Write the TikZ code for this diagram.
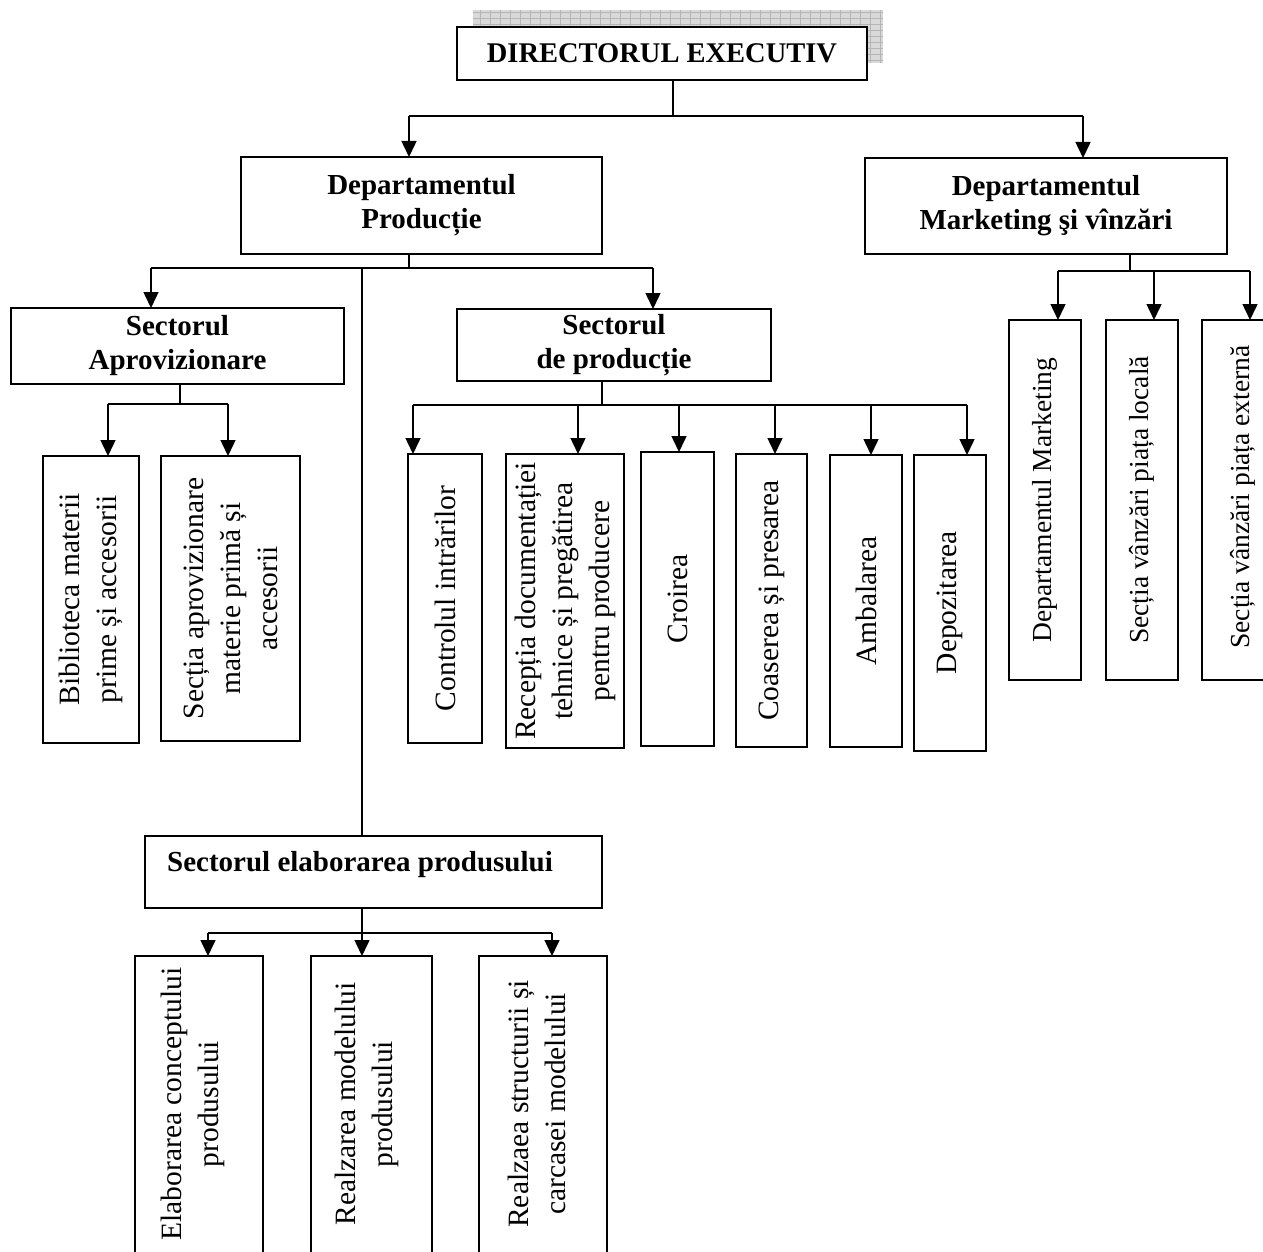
\documentclass[tikz,border=0pt]{standalone}
\usepackage{fontspec}
\setmainfont{Liberation Serif}
\usetikzlibrary{arrows.meta}
\begin{document}
\begin{tikzpicture}[x=1pt,y=-1pt,
  box/.style={draw, line width=1.7pt, inner sep=0pt, outer sep=0pt, fill=white},
  btxt/.style={font=\bfseries\fontsize{29}{34}\selectfont, align=center},
  vtxt/.style={font=\fontsize{29.5}{37}\selectfont, align=center, rotate=90, inner sep=0pt},
  mtxt/.style={font=\fontsize{27.5}{34}\selectfont, align=center, rotate=90, inner sep=0pt},
  ln/.style={line width=1.5pt},
  arr/.style={line width=1.5pt, -{Triangle[width=15pt,length=16pt]}},
]
\useasboundingbox (0,0) rectangle (1263,1252);

% shadow of the director box
\fill[gray!30] (473,10) rectangle (883,63);
\draw[gray!58, line width=0.7pt, xstep=10pt, ystep=6pt] (473,10) grid (883,63);

% ---- top level
\node[box, btxt, font=\bfseries\fontsize{28.5}{34}\selectfont, minimum width=410, minimum height=53] (dir) at (662,53.5) {DIRECTORUL EXECUTIV};
\node[box, btxt, minimum width=361, minimum height=97] (dprod) at (421.5,205.5) {Departamentul\\Producție};
\node[box, btxt, minimum width=362, minimum height=96] (dmkt) at (1046,206) {Departamentul\\Marketing şi vînzări};

\coordinate (j0) at (673,116);
\coordinate (a0) at (409,116);
\coordinate (b0) at (1083,116);
\draw[ln] (dir.south -| j0) -- (j0);
\draw[ln] (a0) -- (b0);
\draw[arr] (a0) -- (a0 |- dprod.north);
\draw[arr] (b0) -- (b0 |- dmkt.north);

% ---- under Departamentul Productie
\node[box, btxt, minimum width=333, minimum height=76] (aprov) at (177.5,346) {Sectorul\\Aprovizionare};
\node[box, btxt, minimum width=314, minimum height=72] (sprod) at (614,345) {Sectorul\\de producție};
\node[box, minimum width=457, minimum height=72] (elab) at (373.5,872) {};
\node[btxt, anchor=west, inner sep=0pt] (elabt) at (167,865) {Sectorul elaborarea produsului};

\coordinate (j1) at (409,268);
\coordinate (a1) at (151,268);
\coordinate (b1) at (653,268);
\coordinate (v1) at (362,268);
\draw[ln] (dprod.south -| j1) -- (j1);
\draw[ln] (a1) -- (b1);
\draw[arr] (a1) -- (a1 |- aprov.north);
\draw[arr] (b1) -- (b1 |- sprod.north);
\draw[ln] (v1) -- (v1 |- elab.north);

% ---- Sectorul Aprovizionare children
\node[box, minimum width=96, minimum height=287] (bib) at (91,599.5) {};
\node[box, minimum width=139, minimum height=285] (secap) at (230.5,598.5) {};
\node[vtxt] (bibt) at (bib.center) {Biblioteca materii\\prime și accesorii};
\node[vtxt] (secapt) at (secap.center) {Secția aprovizionare\\materie primă și\\accesorii};

\coordinate (j2) at (180,404);
\coordinate (a2) at (108,404);
\coordinate (b2) at (228,404);
\draw[ln] (aprov.south -| j2) -- (j2);
\draw[ln] (a2) -- (b2);
\draw[arr] (a2) -- (a2 |- bib.north);
\draw[arr] (b2) -- (b2 |- secap.north);

% ---- Sectorul de productie children
\node[box, minimum width=74, minimum height=289] (ctrl) at (445,598.5) {};
\node[box, minimum width=118, minimum height=294] (rec) at (565,601) {};
\node[box, minimum width=73, minimum height=294] (croi) at (677.5,599) {};
\node[box, minimum width=71, minimum height=293] (coas) at (771.5,600.5) {};
\node[box, minimum width=72, minimum height=292] (amb) at (866,601) {};
\node[box, minimum width=72, minimum height=296] (dep) at (950,603) {};
\node[vtxt] (ctrlt) at (ctrl.center) {Controlul intrărilor};
\node[vtxt] (rect) at (rec.center) {Recepția documentației\\tehnice și pregătirea\\pentru producere};
\node[vtxt] (croit) at (croi.center) {Croirea};
\node[vtxt] (coast) at (coas.center) {Coaserea și presarea};
\node[vtxt] (ambt) at (amb.center) {Ambalarea};
\node[vtxt] (dept) at (dep.center) {Depozitarea};

\coordinate (j3) at (602,405);
\coordinate (p1) at (413,405);
\coordinate (p2) at (578,405);
\coordinate (p3) at (679,405);
\coordinate (p4) at (775,405);
\coordinate (p5) at (871,405);
\coordinate (p6) at (967,405);
\draw[ln] (sprod.south -| j3) -- (j3);
\draw[ln] (p1) -- (p6);
\draw[arr] (p1) -- (p1 |- ctrl.north);
\draw[arr] (p2) -- (p2 |- rec.north);
\draw[arr] (p3) -- (p3 |- croi.north);
\draw[arr] (p4) -- (p4 |- coas.north);
\draw[arr] (p5) -- (p5 |- amb.north);
\draw[arr] (p6) -- (p6 |- dep.north);

% ---- Marketing children
\node[box, minimum width=72, minimum height=360] (mk1) at (1045,500) {};
\node[box, minimum width=72, minimum height=360] (mk2) at (1142,500) {};
\node[box, minimum width=72, minimum height=360] (mk3) at (1238,500) {};
\node[mtxt] (mk1t) at (mk1.center) {Departamentul Marketing};
\node[mtxt] (mk2t) at (mk2.center) {Secția vânzări piața locală};
\node[mtxt] (mk3t) at (1243,497) {Secția vânzări piața externă};

\coordinate (j4) at (1130,271);
\coordinate (m1) at (1058,271);
\coordinate (m2) at (1154,271);
\coordinate (m3) at (1250,271);
\draw[ln] (dmkt.south -| j4) -- (j4);
\draw[ln] (m1) -- (m3);
\draw[arr] (m1) -- (m1 |- mk1.north);
\draw[arr] (m2) -- (m2 |- mk2.north);
\draw[arr] (m3) -- (m3 |- mk3.north);

% ---- Elaborarea children
\node[box, minimum width=128, minimum height=298] (el1) at (199,1105) {};
\node[box, minimum width=121, minimum height=298] (el2) at (371.5,1105) {};
\node[box, minimum width=128, minimum height=298] (el3) at (543,1105) {};
\node[vtxt] (el1t) at (193,1104) {Elaborarea conceptului\\produsului};
\node[vtxt] (el2t) at (367,1104) {Realzarea modelului\\produsului};
\node[vtxt] (el3t) at (537,1104) {Realzaea structurii și\\carcasei modelului};

\coordinate (j5) at (362,933);
\coordinate (e1) at (208,933);
\coordinate (e3) at (552,933);
\draw[ln] (elab.south -| j5) -- (j5);
\draw[ln] (e1) -- (e3);
\draw[arr] (e1) -- (e1 |- el1.north);
\draw[arr] (j5) -- (j5 |- el2.north);
\draw[arr] (e3) -- (e3 |- el3.north);
\end{tikzpicture}
\end{document}
